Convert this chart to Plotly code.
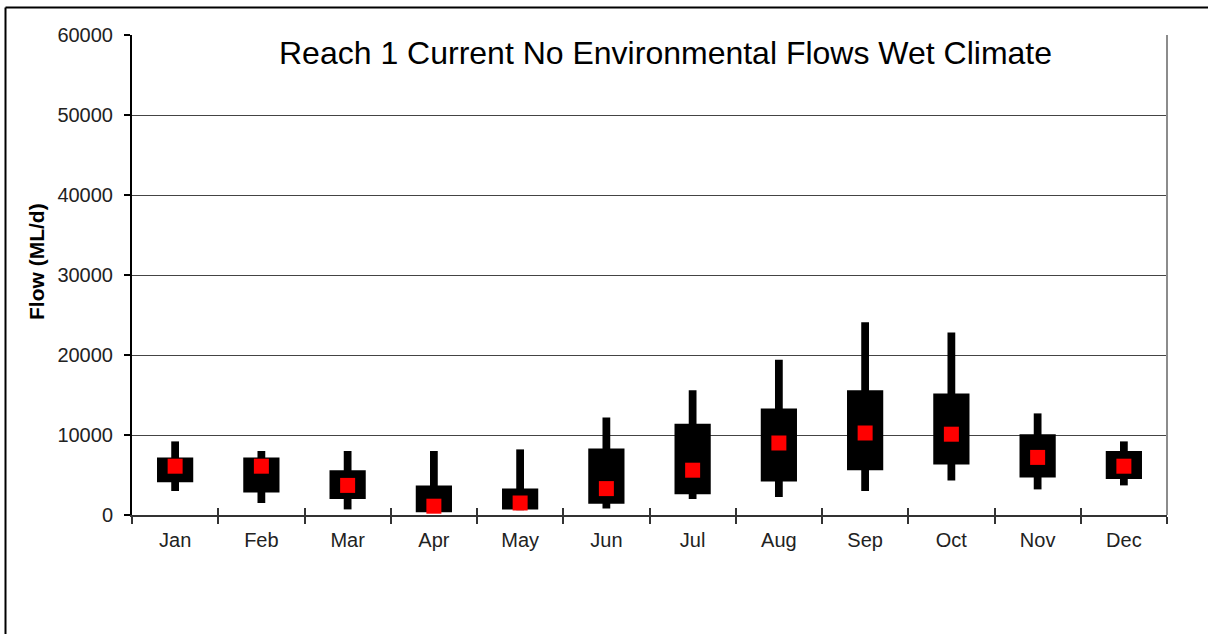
import plotly.graph_objects as go

months = ["Jan", "Feb", "Mar", "Apr", "May", "Jun", "Jul", "Aug", "Sep", "Oct", "Nov", "Dec"]
flow_min = [3000, 1500, 700, 300, 600, 800, 2000, 2250, 3000, 4300, 3200, 3700]
flow_q1 = [4100, 2800, 2000, 350, 700, 1400, 2600, 4200, 5600, 6300, 4700, 4500]
flow_median = [6100, 6100, 3700, 1100, 1500, 3300, 5600, 9000, 10250, 10100, 7200, 6100]
flow_q3 = [7200, 7200, 5600, 3700, 3300, 8300, 11400, 13300, 15600, 15200, 10100, 8000]
flow_max = [9200, 8000, 8000, 8000, 8200, 12200, 15600, 19400, 24100, 22800, 12700, 9200]
y_ticks = [0, 10000, 20000, 30000, 40000, 50000, 60000]
title_text = "Reach 1 Current No Environmental Flows Wet Climate"
y_title = "Flow (ML/d)"

FONT = "Liberation Sans, Arial, sans-serif"

fig = go.Figure()

# whiskers (min to max)
fig.add_trace(go.Bar(
    x=months, base=flow_min, y=[mx - mn for mx, mn in zip(flow_max, flow_min)],
    width=0.09, marker=dict(color="black", line=dict(width=0)), showlegend=False,
    hoverinfo="skip"))
# boxes (q1 to q3)
fig.add_trace(go.Bar(
    x=months, base=flow_q1, y=[q3 - q1 for q3, q1 in zip(flow_q3, flow_q1)],
    width=0.42, marker=dict(color="black", line=dict(width=0)), showlegend=False,
    hoverinfo="skip"))
# medians
fig.add_trace(go.Scatter(
    x=months, y=flow_median, mode="markers",
    marker=dict(symbol="square", size=15, color="#ff0000", line=dict(width=0)),
    showlegend=False))
# invisible trace to drive the overlay axis (inside tick marks)
fig.add_trace(go.Scatter(
    x=months, y=flow_median, xaxis="x2", mode="markers",
    marker=dict(opacity=0), showlegend=False, hoverinfo="skip"))

L, R, T, B = 132, 1167, 35, 515
W, H = 1208, 634
pw, ph = R - L, B - T

def px(xp):
    return (xp - L) / pw

def py(yp):
    return (B - yp) / ph

fig.update_layout(
    width=W, height=H,
    margin=dict(l=L, r=W - R, t=T, b=H - B),
    paper_bgcolor="white", plot_bgcolor="white",
    barmode="overlay",
    font=dict(family=FONT, color="#222222"),
    xaxis=dict(
        type="category", categoryorder="array", categoryarray=months,
        range=[-0.5, 11.5], tickson="boundaries",
        ticks="outside", ticklen=7, tickwidth=1.5, tickcolor="#333333",
        showline=True, linecolor="#333333", linewidth=2,
        showgrid=False, zeroline=False, ticklabelstandoff=6,
        tickfont=dict(family=FONT, size=20, color="#222222"),
    ),
    xaxis2=dict(
        type="category", categoryorder="array", categoryarray=months,
        range=[-0.5, 11.5], tickson="boundaries", overlaying="x",
        anchor="y", side="bottom",
        ticks="inside", ticklen=7, tickwidth=1.5, tickcolor="#333333",
        showticklabels=False, showline=False, showgrid=False, zeroline=False,
    ),
    yaxis=dict(
        range=[0, 60000], tickvals=y_ticks, ticktext=[str(v) for v in y_ticks],
        ticks="outside", ticklen=6, tickwidth=1.5, tickcolor="black",
        showline=True, linecolor="black", linewidth=2,
        showgrid=True, gridcolor="#444444", gridwidth=1, zeroline=False,
        tickfont=dict(family=FONT, size=20, color="#222222"),
        ticklabelstandoff=7,
    ),
    annotations=[
        dict(text=title_text, xref="paper", yref="paper",
             x=px(665.5), y=py(53), xanchor="center", yanchor="middle",
             showarrow=False, font=dict(family=FONT, size=32, color="black")),
        dict(text="<b>" + y_title + "</b>", xref="paper", yref="paper",
             x=px(36), y=py(262), xanchor="center", yanchor="middle", textangle=-90,
             showarrow=False, font=dict(family=FONT, size=21, color="black")),
    ],
    shapes=[
        # right plot border
        dict(type="line", xref="paper", yref="paper", x0=1, x1=1, y0=0, y1=1,
             line=dict(color="#8c8c8c", width=2)),
        # outer chart border (top and left)
        dict(type="line", xref="paper", yref="paper", x0=px(5.5), x1=px(1215),
             y0=py(7.5), y1=py(7.5), line=dict(color="black", width=2)),
        dict(type="line", xref="paper", yref="paper", x0=px(5.5), x1=px(5.5),
             y0=py(7.5), y1=py(640), line=dict(color="black", width=2)),
    ],
)

fig.write_html("out.html", config={"displayModeBar": False},
               post_script="document.body.style.margin='0';")
